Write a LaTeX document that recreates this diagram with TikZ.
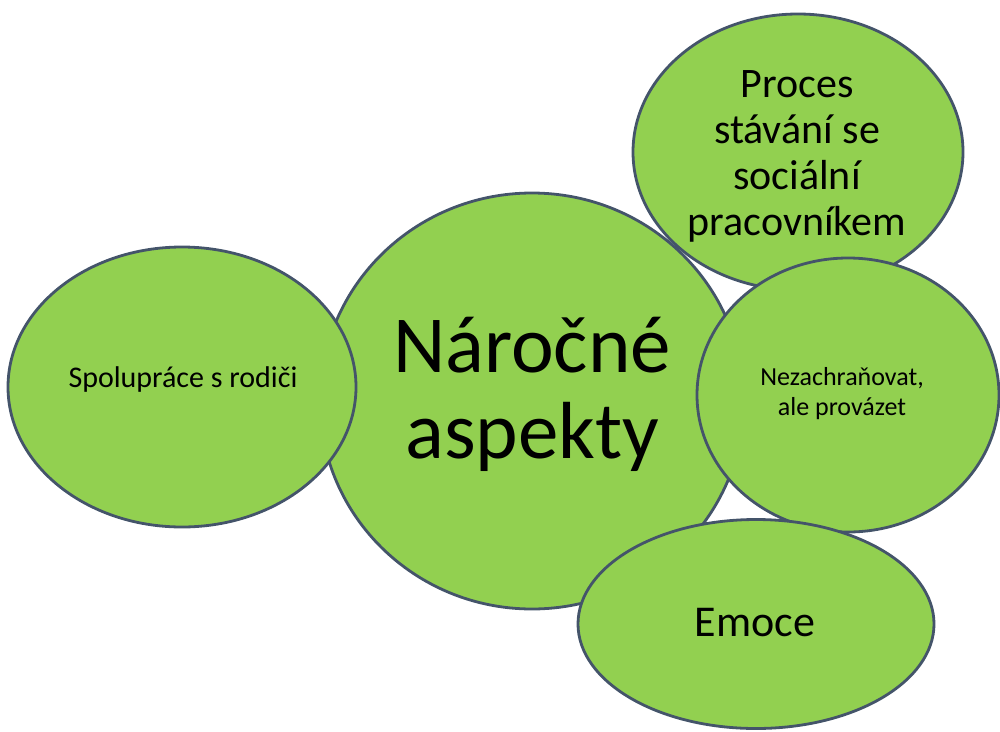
\documentclass[tikz,border=0pt]{standalone}
\usepackage{fontspec}
\setmainfont{Carlito}
\usetikzlibrary{shapes.geometric}
\definecolor{bubblefill}{HTML}{92D050}
\definecolor{bubbleline}{HTML}{44546A}
\tikzset{
  bubble/.style={ellipse, draw=bubbleline, fill=bubblefill, line width=2.8pt,
    inner sep=0pt},
  bubbletext/.style={inner sep=0pt, align=center, text=black},
}
\begin{document}
\begin{tikzpicture}[x=1pt,y=-1pt]
\useasboundingbox (0,0) rectangle (1000,731);
\node[bubble, minimum width=424pt, minimum height=416pt] (center) at (532,401) {};
\node[bubbletext, font=\fontsize{81}{86}\selectfont] (centertext) at (532,394) {Náročné\\aspekty};
\node[bubble, minimum width=348pt, minimum height=280pt] (left) at (182,387) {};
\node[bubbletext, font=\fontsize{30}{36}\selectfont] (lefttext) at (183,379) {Spolupráce s rodiči};
\node[bubble, minimum width=330pt, minimum height=276pt] (topright) at (798,152) {};
\node[bubbletext, font=\fontsize{42}{46}\selectfont] (toprighttext) at (797,156) {Proces\\stávání se\\sociální\\pracovníkem};
\node[bubble, minimum width=302pt, minimum height=274pt] (right) at (848,395) {};
\node[bubbletext, font=\fontsize{26}{30}\selectfont] (righttext) at (842,394) {Nezachraňovat,\\ale provázet};
\node[bubble, minimum width=356pt, minimum height=209pt] (emoce) at (756,624) {};
\node[bubbletext, font=\fontsize{44}{48}\selectfont] (emocetext) at (755,623) {Emoce};
\end{tikzpicture}
\end{document}
